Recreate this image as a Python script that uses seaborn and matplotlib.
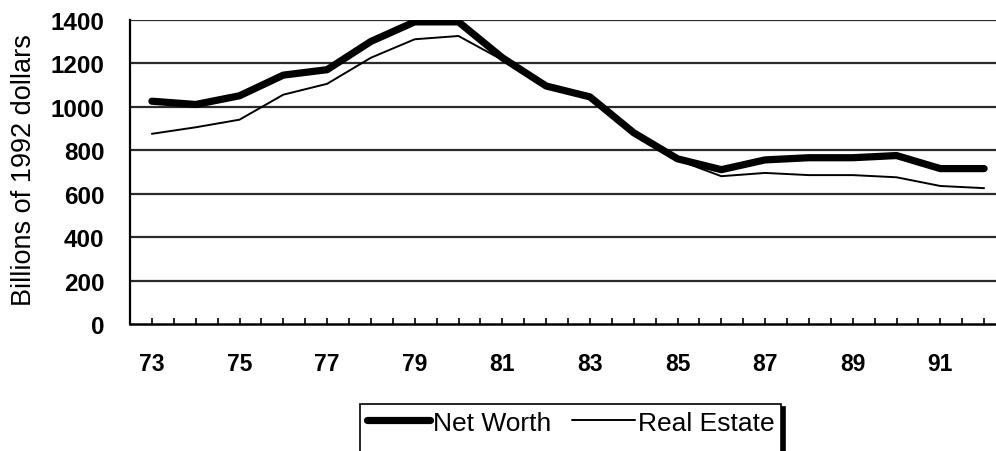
import matplotlib
matplotlib.use("Agg")
import matplotlib.pyplot as plt
from matplotlib.ticker import FixedLocator, FixedFormatter
from matplotlib.lines import Line2D
import seaborn as sns
import pandas as pd

years = list(range(73, 93))
net_worth = [1025, 1010, 1050, 1145, 1170, 1300, 1390, 1390, 1225, 1095,
             1045, 880, 760, 710, 755, 765, 765, 775, 715, 715]
real_estate = [875, 905, 940, 1055, 1105, 1225, 1310, 1325, 1215, 1090,
               1040, 880, 755, 680, 695, 685, 685, 675, 635, 625]
y_ticks = [0, 200, 400, 600, 800, 1000, 1200, 1400]
x_labels = ["73", "75", "77", "79", "81", "83", "85", "87", "89", "91"]

sns.set_style("white")
plt.rcParams["font.family"] = ["Liberation Sans", "DejaVu Sans"]
plt.rcParams["text.color"] = "black"
plt.rcParams["axes.labelcolor"] = "black"
plt.rcParams["xtick.color"] = "black"
plt.rcParams["ytick.color"] = "black"

df = pd.DataFrame({"year": years, "Net Worth": net_worth, "Real Estate": real_estate})

fig = plt.figure(figsize=(9.96, 4.52), dpi=100)
ax = fig.add_axes([130 / 996, 1 - 325 / 452, (1006 - 130) / 996, (325 - 20.7) / 452])

for yv in y_ticks[1:]:
    ax.axhline(yv, color="#2a2a2a", lw=1.6, zorder=1)

sns.lineplot(data=df, x="year", y="Net Worth", ax=ax, color="black", lw=5.2,
             label="Net Worth", zorder=3, solid_capstyle="round")
sns.lineplot(data=df, x="year", y="Real Estate", ax=ax, color="black", lw=1.4,
             label="Real Estate", zorder=2)

ax.set_xlim(72.5, 92.5)
ax.set_ylim(0, 1400)
ax.set_yticks(y_ticks)
ax.set_yticklabels([str(v) for v in y_ticks], fontsize=17.5, fontweight="bold", color="black")
odd_labels = iter(x_labels)
ax.xaxis.set_major_locator(FixedLocator(years))
ax.xaxis.set_major_formatter(FixedFormatter([next(odd_labels) if y % 2 == 1 else "" for y in years]))
ax.xaxis.set_minor_locator(FixedLocator([y + 0.5 for y in years[:-1]] + [72.5]))
ax.tick_params(axis="x", which="both", direction="in", length=4, width=1.2,
               color="black", labelsize=16.5, labelcolor="black", pad=20, bottom=True)
ax.tick_params(axis="y", left=False, pad=15, labelcolor="black")
for lbl in ax.get_xticklabels():
    lbl.set_fontweight("bold")

for s in ["top", "right"]:
    ax.spines[s].set_visible(False)
ax.spines["left"].set_color("black")
ax.spines["left"].set_linewidth(1.6)
ax.spines["bottom"].set_color("black")
ax.spines["bottom"].set_linewidth(1.8)

ax.set_xlabel("")
ax.set_ylabel("Billions of 1992 dollars", fontsize=19.5, color="black")
ax.yaxis.set_label_coords((37 - 130) / 876, (325 - 170) / 304.3)

ax.get_legend().remove()
handles, labels = ax.get_legend_handles_labels()
blank = Line2D([], [], color="none")
handles = [handles[0], blank, handles[1], blank]
labels = [labels[0], " ", labels[1], " "]
leg = fig.legend(handles, labels, loc="upper left", bbox_to_anchor=(360 / 996, 1 - 405 / 452),
                 ncol=2, frameon=True, fancybox=False, fontsize=19, handlelength=2.4,
                 handletextpad=0.1, columnspacing=0.8, borderpad=0.25, borderaxespad=0,
                 labelspacing=0.3,
                 shadow={"color": "black", "alpha": 1.0, "ox": 3, "oy": -2})
leg.get_frame().set_edgecolor("black")
leg.get_frame().set_linewidth(1.2)

fig.savefig("out.png", dpi=100)
